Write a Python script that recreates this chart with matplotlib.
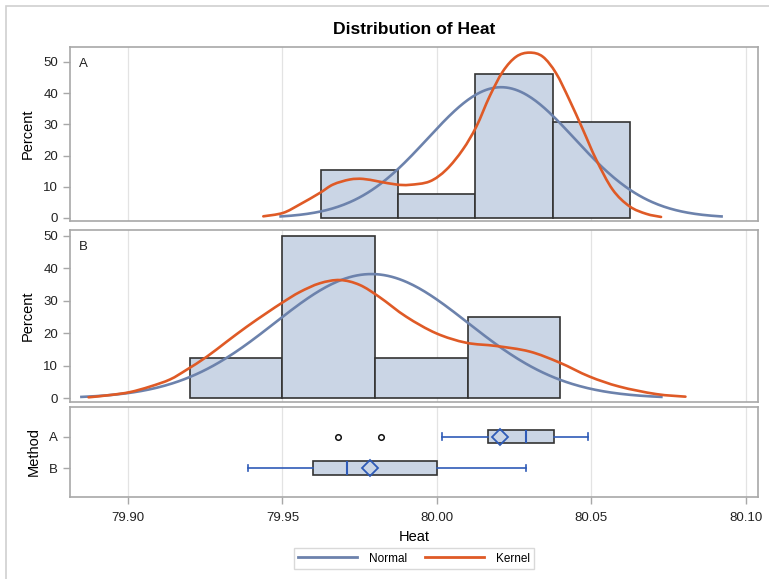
import numpy as np
import matplotlib
matplotlib.use('Agg')
import matplotlib.pyplot as plt
from matplotlib.lines import Line2D
from matplotlib.patches import Rectangle, PathPatch
from matplotlib.path import Path

plt.rcParams['font.family'] = ['Liberation Sans', 'DejaVu Sans']

methods = ['A', 'B']

# histograms: bin edges and percent per bin
edges_A = [79.9625, 79.9875, 80.0125, 80.0375, 80.0625]
pct_A = [15.38, 7.69, 46.15, 30.77]
edges_B = [79.92, 79.95, 79.98, 80.01, 80.04]
pct_B = [12.5, 50.0, 12.5, 25.0]

# fitted normal parameters
mean_A, sd_A = 80.0208, 0.0238
mean_B, sd_B = 79.9788, 0.0313

# kernel density curves, digitized (Heat, Percent)
kern_A_x = [79.9438, 79.9502, 79.9556, 79.9621, 79.9664, 79.9718, 79.9761,
            79.9810, 79.9869, 79.9912, 79.9977, 80.0031, 80.0084, 80.0128,
            80.0171, 80.0214, 80.0257, 80.0300, 80.0343, 80.0386, 80.0429,
            80.0473, 80.0516, 80.0569, 80.0624, 80.0678, 80.0726]
kern_A_y = [0.5, 1.6, 4.3, 8.0, 10.7, 12.3, 12.5,
            11.7, 10.7, 10.6, 11.7, 15.5, 21.9, 29.3,
            39.0, 47.0, 51.7, 53.0, 51.7, 46.4, 37.9,
            28.3, 18.7, 9.1, 3.7, 1.3, 0.3]
kern_B_x = [79.8872, 79.8942, 79.9006, 79.9071, 79.9136, 79.9190, 79.9255,
            79.9319, 79.9384, 79.9448, 79.9502, 79.9556, 79.9621, 79.9686,
            79.9750, 79.9815, 79.9901, 79.9998, 80.0095, 80.0192, 80.0300,
            80.0397, 80.0494, 80.0591, 80.0710, 80.0805]
kern_B_y = [0.3, 1.0, 1.9, 3.6, 5.8, 8.8, 12.8,
            17.4, 22.0, 26.2, 29.6, 32.7, 35.4, 36.4,
            34.9, 31.1, 25.1, 20.0, 17.1, 16.1, 14.4,
            11.0, 6.7, 3.6, 1.3, 0.5]

# box plot summary
box_lo = [80.0017, 79.9390]
box_q1 = [80.0165, 79.9600]
box_med = [80.0290, 79.9708]
box_q3 = [80.0380, 80.0000]
box_hi = [80.0490, 80.0290]
box_mean = [80.0205, 79.9783]
box_out = [[79.9679, 79.9819], []]

xticks = [79.90, 79.95, 80.00, 80.05, 80.10]

fill_c = '#CAD5E5'
normal_c = '#6C82AC'
kernel_c = '#DF5A26'
box_line = '#2F5BB7'
spine_c = '#A8A8A8'
grid_c = '#E3E3E3'
xlim = (79.8812, 80.1039)


def normal_curve(m, s, bw_hist):
    xs = np.linspace(m - 3 * s, m + 3 * s, 300)
    d = np.exp(-0.5 * ((xs - m) / s) ** 2) / (s * np.sqrt(2 * np.pi))
    return xs, d * bw_hist * 100


def smooth_path(x, y):
    # draw a smooth line through the points (Catmull-Rom as bezier segments)
    p = np.column_stack([x, y])
    verts = [p[0]]
    codes = [Path.MOVETO]
    for i in range(len(p) - 1):
        p0 = p[i - 1] if i > 0 else p[i]
        p3 = p[i + 2] if i + 2 < len(p) else p[i + 1]
        c1 = p[i] + (p[i + 1] - p0) / 6.0
        c2 = p[i + 1] - (p3 - p[i]) / 6.0
        verts += [c1, c2, p[i + 1]]
        codes += [Path.CURVE4] * 3
    return Path(verts, codes)


def style_axes(ax):
    for sp in ax.spines.values():
        sp.set_color(spine_c)
        sp.set_linewidth(1.2)
    ax.set_xlim(xlim)
    ax.set_xticks(xticks)
    ax.grid(True, axis='x', color=grid_c, linewidth=0.9)
    ax.set_axisbelow(True)
    ax.tick_params(axis='both', colors=spine_c, labelcolor='#222222',
                   labelsize=9.5, length=5, width=1)


fig = plt.figure(figsize=(7.69, 5.79), dpi=100)
W, H = 769.0, 579.0

# outer border (only top/left visible)
fig.patches.append(Rectangle((6 / W, -0.1), 1.2, 1 - 6 / H + 0.1,
                             transform=fig.transFigure, fill=False,
                             edgecolor='#D0D0D0', linewidth=1.2))

fig.text(414 / W, 1 - 30 / H, 'Distribution of Heat', ha='center',
         va='center', fontsize=12.6, fontweight='bold')

L, R = 70, 757.7
axA = fig.add_axes([L / W, 1 - 221 / H, (R - L) / W, 174 / H])
axB = fig.add_axes([L / W, 1 - 401.7 / H, (R - L) / W, 171.7 / H])
axC = fig.add_axes([L / W, 1 - 497 / H, (R - L) / W, 90 / H])

panels = [(axA, edges_A, pct_A, mean_A, sd_A, kern_A_x, kern_A_y, (-1, 54.8), 'A'),
          (axB, edges_B, pct_B, mean_B, sd_B, kern_B_x, kern_B_y, (-1.05, 51.8), 'B')]

for ax, edges, pct, m, s, kx, ky, ylim, name in panels:
    binw = edges[1] - edges[0]
    ax.bar(edges[:-1], pct, width=binw, align='edge', color=fill_c,
           edgecolor='#333333', linewidth=1.2, zorder=2)
    xs, ys = normal_curve(m, s, binw)
    ax.plot(xs, ys, color=normal_c, linewidth=1.9, zorder=3)
    ax.add_patch(PathPatch(smooth_path(kx, ky), facecolor='none',
                           edgecolor=kernel_c, linewidth=1.9, zorder=4,
                           capstyle='round', joinstyle='round'))
    style_axes(ax)
    ax.set_ylim(ylim)
    ax.set_yticks([0, 10, 20, 30, 40, 50])
    ax.tick_params(axis='x', bottom=False, labelbottom=False)
    ax.set_ylabel('Percent', fontsize=10.5, labelpad=6)
    ax.text(0.013, 0.9, name, transform=ax.transAxes, fontsize=9.5,
            va='center', color='#222222')

# box plots
stats = []
for i, name in enumerate(methods):
    stats.append(dict(med=box_med[i], q1=box_q1[i], q3=box_q3[i],
                      whislo=box_lo[i], whishi=box_hi[i], mean=box_mean[i],
                      fliers=box_out[i], label=name))

axC.bxp(stats, positions=[0, 1], widths=0.43, capwidths=0.2,
        orientation='horizontal', showmeans=True, patch_artist=True,
        boxprops=dict(facecolor=fill_c, edgecolor='#333333', linewidth=1.2),
        whiskerprops=dict(color=box_line, linewidth=1.2),
        capprops=dict(color=box_line, linewidth=1.2),
        medianprops=dict(color=box_line, linewidth=1.5),
        meanprops=dict(marker='D', markerfacecolor='none',
                       markeredgecolor=box_line, markersize=8,
                       markeredgewidth=1.3),
        flierprops=dict(marker='o', markerfacecolor='none',
                        markeredgecolor='#111111', markersize=4,
                        markeredgewidth=1.1))
style_axes(axC)
axC.set_ylim(1.92, -0.94)
axC.set_yticks([0, 1])
axC.set_yticklabels(methods)
axC.set_xticklabels(['%.2f' % t for t in xticks])
axC.tick_params(axis='x', pad=6)
axC.set_ylabel('Method', fontsize=10.5, labelpad=6)
axC.set_xlabel('Heat', fontsize=10.5, labelpad=4)

handles = [Line2D([], [], color=normal_c, linewidth=2),
           Line2D([], [], color=kernel_c, linewidth=2)]
leg = fig.legend(handles, ['Normal', 'Kernel'], loc='center',
                 bbox_to_anchor=(413.8 / W, 1 - 558.5 / H), ncol=2,
                 fontsize=8.5, handlelength=5, columnspacing=1.5,
                 fancybox=False, borderpad=0.35, handletextpad=1.0)
leg.get_frame().set_edgecolor('#D0D0D0')
leg.get_frame().set_linewidth(1)

fig.savefig('out.png', dpi=100)
